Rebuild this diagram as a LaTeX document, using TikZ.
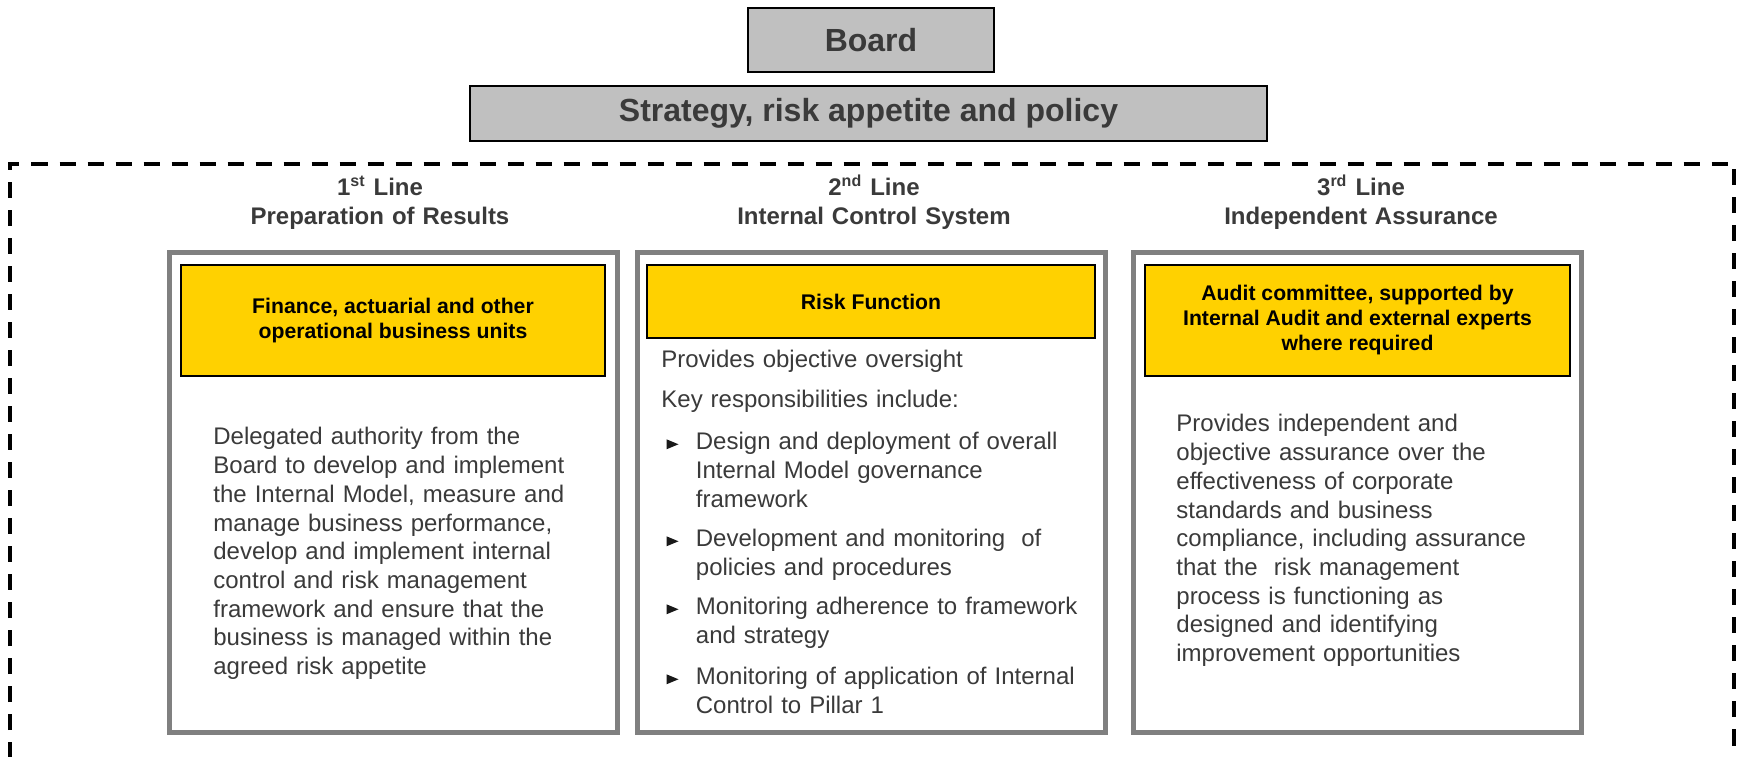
\documentclass[tikz,border=0pt]{standalone}
\usepackage{fontspec}
\setmainfont{Liberation Sans}

\begin{document}
\begin{tikzpicture}[
    x=50pt, y=50pt,
    every node/.style={inner sep=0pt},
]

% ---------------------------------------------------------------- colours
\definecolor{boardgrey}{HTML}{C0C0C0}   % board and policy bars
\definecolor{framegrey}{HTML}{808080}   % the three line frames
\definecolor{unityellow}{HTML}{FFD100}  % who carries each line
\definecolor{textgrey}{HTML}{3A3A3A}

% ---------------------------------------------------------------- styles
\tikzset{
    topbox/.style={
        rectangle, draw=black, line width=1pt, fill=boardgrey,
        text=textgrey, font=\bfseries\fontsize{16pt}{19pt}\selectfont,
    },
    linehead/.style={
        anchor=base, text width=230pt, align=center, text=textgrey,
        font=\bfseries\fontsize{12pt}{14.5pt}\selectfont,
    },
    frame/.style={
        rectangle, draw=framegrey, line width=2.5pt, fill=white,
    },
    unit/.style={
        rectangle, draw=black, line width=1pt, fill=unityellow,
        align=center, font=\bfseries\fontsize{10.6pt}{12.5pt}\selectfont,
    },
    body/.style={
        anchor=base west, text width=205pt, align=left, text=textgrey,
        font=\fontsize{12pt}{14.35pt}\selectfont,
    },
    pointer/.style={fill=black!90},
}

% ================================================================
% GEOMETRY (1 unit = 50pt)
%   board bar        y = 7.16
%   policy bar       y = 6.43
%   dashed boundary  top at y = 5.92, runs off the bottom
%   line frames      x in [1.70, 6.18], [6.38, 11.06], [11.34, 15.81]
% ================================================================

\useasboundingbox (0,0) rectangle (17.42,7.56);

% ---------------------------------------------------------------- board
\node[topbox, minimum width=123pt, minimum height=32pt] (board)
    at (8.71, 7.16) {Board};
\node[topbox, minimum width=398.5pt, minimum height=27.5pt] (policy)
    at (8.685, 6.425) {Strategy, risk appetite and policy};

% the three lines sit inside one dashed boundary
\draw[line width=2pt, dash pattern=on 8pt off 6pt]
    (0.095, -0.3) -- (0.095, 5.92) -- (17.34, 5.92) -- (17.34, -0.3);

% ---------------------------------------------------------------- headings
\node[linehead] (head1) at (3.80, 5.605)
    {1\textsuperscript{st} Line\\Preparation of Results};
\node[linehead] (head2) at (8.74, 5.605)
    {2\textsuperscript{nd} Line\\Internal Control System};
\node[linehead] (head3) at (13.61, 5.605)
    {3\textsuperscript{rd} Line\\Independent Assurance};

% ---------------------------------------------------------------- frames
\node[frame, minimum width=224pt, minimum height=239.75pt] (frame1)
    at (3.935, 2.6325) {};
\node[frame, minimum width=234pt, minimum height=239.75pt] (frame2)
    at (8.715, 2.6325) {};
\node[frame, minimum width=223.75pt, minimum height=239.75pt] (frame3)
    at (13.5725, 2.6325) {};

% ---------------------------------------------------------------- 1st line
\node[unit, minimum width=212pt, minimum height=55.5pt] (unit1)
    at (3.93, 4.355)
    {Finance, actuarial and other\\operational business units};

\node[body] (body1) at (2.13, 3.11)
    {Delegated authority from the\\
     Board to develop and implement\\
     the Internal Model, measure and\\
     manage business performance,\\
     develop and implement internal\\
     control and risk management\\
     framework and ensure that the\\
     business is managed within the\\
     agreed risk appetite};

% ---------------------------------------------------------------- 2nd line
\node[unit, minimum width=224pt, minimum height=36.5pt] (unit2)
    at (8.71, 4.545) {Risk Function};

\node[body] (oversight) at (6.61, 3.88) {Provides objective oversight};
\node[body] (keyresp) at (6.61, 3.48) {Key responsibilities include:};

\node[body] (item1) at (6.955, 3.06)
    {Design and deployment of overall\\
     Internal Model governance\\
     framework};
\node[body] (item2) at (6.955, 2.09)
    {Development and monitoring~ of\\
     policies and procedures};
\node[body] (item3) at (6.955, 1.41)
    {Monitoring adherence to framework\\
     and strategy};
\node[body] (item4) at (6.955, 0.71)
    {Monitoring of application of Internal\\
     Control to Pillar 1};

\foreach \y in {3.06, 2.09, 1.41, 0.71} {
    \fill[pointer] (6.665, \y+0.107) -- (6.785, \y+0.057) -- (6.665, \y+0.007) -- cycle;
}

% ---------------------------------------------------------------- 3rd line
\node[unit, minimum width=212.5pt, minimum height=55.5pt] (unit3)
    at (13.575, 4.355)
    {Audit committee, supported by\\
     Internal Audit and external experts\\
     where required};

\node[body] (body3) at (11.76, 3.24)
    {Provides independent and\\
     objective assurance over the\\
     effectiveness of corporate\\
     standards and business\\
     compliance, including assurance\\
     that the~ risk management\\
     process is functioning as\\
     designed and identifying\\
     improvement opportunities};

\end{tikzpicture}
\end{document}
